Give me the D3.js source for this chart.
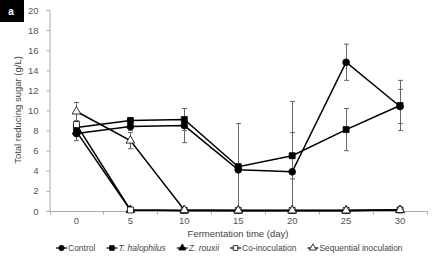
<!DOCTYPE html>
<html>
<head>
<meta charset="utf-8">
<script src="https://cdn.jsdelivr.net/npm/d3@7"></script>
<style>
  body { margin: 0; background: #fff; }
  svg { display: block; font-family: "Liberation Sans", Arial, sans-serif; }
</style>
</head>
<body>
<script>
// Fermentation days (category axis)
const days = [0, 5, 10, 15, 20, 25, 30];
const yTicks = [0, 2, 4, 6, 8, 10, 12, 14, 16, 18, 20];

// Total reducing sugar (g/L)
const control = [7.7, 8.4, 8.5, 4.1, 3.9, 14.8, 10.4];
const controlErr = [0.7, 0.4, 1.7, 4.6, 7.0, 1.8, 1.7];
const halophilus = [8.3, 9.0, 9.1, 4.4, 5.5, 8.1, 10.5];
const halophilusErr = [0.3, 0.3, 1.1, 0.3, 2.3, 2.1, 2.5];
const rouxii = [7.9, 0.1, 0.05, 0.05, 0.05, 0.05, 0.1];
const rouxiiErr = [0, 0, 0, 0, 0, 0, 0];
const coInoc = [8.6, 0.1, 0.05, 0.05, 0.05, 0.05, 0.1];
const coInocErr = [0, 0, 0, 0, 0, 0, 0];
const sequential = [9.9, 7.0, 0.1, 0.05, 0.05, 0.05, 0.1];
const sequentialErr = [0.9, 0.8, 0, 0, 0, 0, 0];

const series = [
  { name: "Control", italic: false, values: control, err: controlErr, shape: d3.symbolCircle, fill: "#000" },
  { name: "T. halophilus", italic: true, values: halophilus, err: halophilusErr, shape: d3.symbolSquare, fill: "#000" },
  { name: "Z. rouxii", italic: true, values: rouxii, err: rouxiiErr, shape: d3.symbolTriangle, fill: "#000" },
  { name: "Co-inoculation", italic: false, values: coInoc, err: coInocErr, shape: d3.symbolSquare, fill: "#fff" },
  { name: "Sequential inoculation", italic: false, values: sequential, err: sequentialErr, shape: d3.symbolTriangle, fill: "#fff" }
];

const W = 442, H = 258;
const svg = d3.select("body").append("svg").attr("width", W).attr("height", H);

const x = d3.scaleBand().domain(days).range([49.5, 427]).padding(0);
const y = d3.scaleLinear().domain([0, 20]).range([211, 10]);
const cx = (d) => x(d) + x.bandwidth() / 2;

// Panel label
svg.append("rect").attr("x", 0).attr("y", 0).attr("width", 24).attr("height", 22).attr("fill", "#000");
svg.append("text").attr("x", 11).attr("y", 15).attr("text-anchor", "middle")
  .attr("fill", "#fff").attr("font-size", 10).attr("font-weight", "bold").text("a");

// Y axis
const yAxis = svg.append("g").attr("transform", "translate(49.5,0)")
  .call(d3.axisLeft(y).tickValues(yTicks).tickSize(3).tickPadding(8));
yAxis.select(".domain").attr("stroke", "#aaa");
yAxis.selectAll(".tick line").attr("stroke", "#aaa");
yAxis.selectAll(".tick text").attr("fill", "#555").attr("font-size", 9.5)
  .attr("font-family", "Liberation Sans, Arial, sans-serif");

// X axis: ticks between categories
const xAxis = svg.append("g").attr("transform", "translate(0,211.5)");
xAxis.append("line").attr("x1", 49.5).attr("x2", 427).attr("stroke", "#aaa");
xAxis.selectAll("line.tk").data(days.concat(["end"])).join("line").attr("class", "tk")
  .attr("x1", (d, i) => Math.round(x.range()[0] + i * x.bandwidth()) + 0.5)
  .attr("x2", (d, i) => Math.round(x.range()[0] + i * x.bandwidth()) + 0.5)
  .attr("y1", 0).attr("y2", 3).attr("stroke", "#aaa");
xAxis.selectAll("text").data(days).join("text")
  .attr("x", (d) => cx(d)).attr("y", 12.5).attr("text-anchor", "middle")
  .attr("fill", "#555").attr("font-size", 9.5).text((d) => d);

// Axis titles
svg.append("text").attr("x", 238).attr("y", 237).attr("text-anchor", "middle")
  .attr("fill", "#444").attr("font-size", 9.5).text("Fermentation time (day)");
svg.append("text").attr("transform", "translate(21,110) rotate(-90)").attr("text-anchor", "middle")
  .attr("fill", "#444").attr("font-size", 9.5).text("Total reducing sugar (g/L)");

// Error bars
const eb = svg.append("g").attr("stroke", "#666").attr("stroke-width", 1);
series.forEach((s) => {
  s.values.forEach((v, i) => {
    const e = s.err[i];
    if (!e) return;
    const lo = Math.max(0, v - e), hi = v + e;
    const px = Math.round(cx(days[i])) + 0.5;
    eb.append("line").attr("x1", px).attr("x2", px).attr("y1", y(lo)).attr("y2", y(hi));
    eb.append("line").attr("x1", px - 2.5).attr("x2", px + 2.5).attr("y1", y(hi)).attr("y2", y(hi));
    if (v - e > 0) eb.append("line").attr("x1", px - 2.5).attr("x2", px + 2.5).attr("y1", y(lo)).attr("y2", y(lo));
  });
});

// Lines
const line = d3.line().x((d, i) => cx(days[i])).y((d) => y(d));
svg.append("g").selectAll("path").data(series).join("path")
  .attr("d", (s) => line(s.values)).attr("fill", "none")
  .attr("stroke", "#000").attr("stroke-width", 1.5);

// Markers (open markers drawn last so they show on the zero line)
const sym = (s) => d3.symbol().type(s.shape).size(s.shape === d3.symbolTriangle ? 32 : 36)();
series.forEach((s) => {
  svg.append("g").selectAll("path").data(s.values).join("path")
    .attr("transform", (d, i) => `translate(${cx(days[i])},${y(d)})`)
    .attr("d", sym(s)).attr("fill", s.fill).attr("stroke", "#000").attr("stroke-width", 0.8);
});

// Legend
const legend = svg.append("g").attr("transform", "translate(0,248)");
let lx = 56;
series.forEach((s) => {
  const g = legend.append("g").attr("transform", `translate(${lx},0)`);
  g.append("line").attr("x1", 0).attr("x2", 11).attr("y1", 0).attr("y2", 0).attr("stroke", "#000").attr("stroke-width", 1.2);
  g.append("path").attr("transform", "translate(5.5,0)")
    .attr("d", d3.symbol().type(s.shape).size(22)()).attr("fill", s.fill).attr("stroke", "#000").attr("stroke-width", 0.8);
  const t = g.append("text").attr("x", 12).attr("y", 3).attr("fill", "#444").attr("font-size", 8.5)
    .attr("font-style", s.italic ? "italic" : "normal").text(s.name);
  lx += 12 + t.node().getComputedTextLength() + 11;
});
</script>
</body>
</html>
